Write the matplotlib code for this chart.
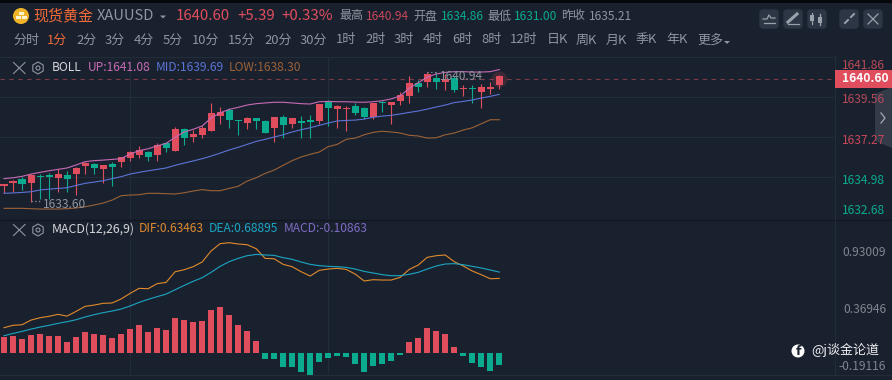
import matplotlib
matplotlib.use("Agg")
import matplotlib.pyplot as plt
from matplotlib.patches import Circle, Rectangle, RegularPolygon, FancyBboxPatch, Polygon

plt.rcParams['font.family'] = ['Noto Sans CJK SC', 'DejaVu Sans']

BG = '#1a212e'
GRID = '#232c39'
RED = '#e04e5e'
GREEN = '#0aab8e'
GREY = '#8f95a0'
ORANGE = '#f26b38'

opens = [1634.48,1634.64,1634.87,1634.64,1635.04,1635.08,1634.92,1635.10,1635.15,1635.61,1635.73,1635.44,1635.73,1635.84,
         1636.07,1636.24,1636.41,1636.24,1636.91,1636.47,1637.71,1637.27,1637.39,1637.61,1638.47,1638.82,1638.24,1638.07,
         1638.36,1638.19,1637.79,1638.42,1638.01,1638.19,1638.24,1638.19,1639.27,1638.87,1638.87,1639.05,1638.93,1638.42,
         1639.27,1639.10,1639.33,1639.62,1640.36,1640.42,1640.65,1640.42,1640.65,1640.02,1640.08,1639.85,1640.02,1640.25]
closes = [1634.58,1634.75,1634.58,1635.10,1634.98,1634.98,1635.15,1634.87,1635.50,1635.78,1635.50,1635.67,1635.55,1636.11,
          1636.41,1636.53,1636.13,1636.79,1636.64,1637.71,1637.21,1637.44,1637.79,1638.64,1638.70,1638.24,1638.19,1638.36,
          1638.19,1637.50,1638.42,1637.96,1638.36,1638.07,1638.13,1639.16,1638.93,1639.05,1638.93,1638.64,1638.42,1639.22,
          1639.22,1639.27,1639.67,1640.36,1640.13,1640.88,1640.42,1640.59,1639.96,1640.08,1640.02,1640.13,1640.13,1640.76]
highs = [1634.58,1634.81,1634.96,1635.15,1635.15,1635.19,1635.42,1635.32,1635.53,1635.86,1635.76,1635.67,1635.84,1636.15,
         1636.49,1636.76,1636.49,1636.91,1636.98,1637.82,1637.79,1637.67,1637.90,1639.22,1638.99,1638.93,1638.24,1638.42,
         1638.36,1638.24,1638.42,1638.53,1638.36,1638.47,1638.53,1639.16,1639.39,1639.10,1639.05,1639.22,1638.99,1639.22,
         1639.33,1639.27,1639.85,1640.76,1640.53,1640.99,1640.99,1640.88,1640.76,1640.25,1640.25,1640.30,1640.42,1640.82]
lows = [1634.05,1634.14,1634.24,1633.53,1633.72,1633.72,1634.12,1634.12,1633.95,1635.15,1635.15,1634.64,1634.47,1635.55,
        1635.90,1636.07,1635.90,1635.90,1636.41,1636.47,1636.81,1636.98,1637.21,1637.61,1638.01,1637.79,1637.39,1637.73,
        1637.73,1637.50,1636.98,1637.21,1637.79,1637.21,1637.21,1638.01,1637.90,1637.79,1637.61,1638.53,1638.30,1638.30,
        1638.70,1638.01,1639.10,1639.22,1639.85,1640.13,1640.02,1639.96,1639.85,1639.62,1639.22,1638.93,1639.73,1640.02]
boll_up = [1634.89,1634.94,1635.02,1635.15,1635.25,1635.34,1635.42,1635.50,1635.67,1635.86,1635.92,1635.95,1635.99,1636.03,
           1636.30,1636.49,1636.60,1636.76,1636.91,1637.25,1637.56,1637.71,1637.90,1638.36,1638.66,1638.85,1638.97,1639.10,
           1639.18,1639.22,1639.26,1639.26,1639.22,1639.18,1639.16,1639.29,1639.31,1639.29,1639.29,1639.27,1639.26,1639.29,
           1639.35,1639.45,1639.62,1640.06,1640.38,1640.69,1640.88,1640.97,1641.01,1641.01,1640.99,1640.99,1641.01,1641.13]
boll_mid = [1634.05,1634.07,1634.10,1634.14,1634.24,1634.29,1634.33,1634.37,1634.50,1634.62,1634.69,1634.77,1634.89,1635.00,
            1635.15,1635.25,1635.34,1635.42,1635.50,1635.65,1635.78,1635.90,1636.03,1636.18,1636.35,1636.53,1636.68,1636.85,
            1637.02,1637.14,1637.27,1637.40,1637.56,1637.69,1637.80,1637.94,1638.07,1638.19,1638.22,1638.24,1638.30,1638.40,
            1638.47,1638.51,1638.59,1638.68,1638.76,1638.87,1638.99,1639.10,1639.24,1639.31,1639.39,1639.50,1639.60,1639.71]
boll_low = [1633.19,1633.19,1633.19,1633.17,1633.15,1633.15,1633.15,1633.17,1633.21,1633.28,1633.38,1633.49,1633.66,1633.91,
            1633.95,1633.97,1634.05,1634.05,1634.03,1634.01,1634.08,1634.18,1634.26,1634.20,1634.20,1634.33,1634.45,1634.75,
            1634.94,1635.19,1635.38,1635.65,1635.92,1636.13,1636.28,1636.41,1636.72,1636.85,1637.14,1637.21,1637.40,1637.54,
            1637.60,1637.56,1637.50,1637.37,1637.33,1637.21,1637.23,1637.40,1637.50,1637.67,1637.80,1638.03,1638.26,1638.26]
dif = [0.214,0.234,0.239,0.279,0.299,0.311,0.328,0.313,0.353,0.396,0.407,0.422,0.425,0.459,0.507,0.550,0.547,0.590,0.601,
       0.692,0.709,0.735,0.775,0.869,0.932,0.940,0.929,0.923,0.889,0.806,0.803,0.755,0.735,0.692,0.655,0.704,0.715,0.721,
       0.712,0.672,0.613,0.624,0.621,0.621,0.644,0.712,0.749,0.815,0.829,0.835,0.778,0.741,0.698,0.667,0.632,0.635]
dea = [0.145,0.165,0.182,0.202,0.219,0.234,0.251,0.265,0.282,0.305,0.325,0.342,0.356,0.373,0.399,0.430,0.456,0.479,0.501,
       0.538,0.575,0.610,0.641,0.687,0.738,0.778,0.806,0.829,0.840,0.835,0.832,0.812,0.798,0.775,0.755,0.744,0.738,0.735,
       0.729,0.715,0.695,0.681,0.667,0.658,0.658,0.670,0.687,0.715,0.741,0.758,0.761,0.752,0.738,0.724,0.707,0.689]
macd = [0.137,0.142,0.117,0.151,0.160,0.142,0.142,0.094,0.134,0.179,0.160,0.151,0.125,0.160,0.202,0.234,0.179,0.211,0.194,
        0.299,0.276,0.262,0.274,0.362,0.390,0.325,0.239,0.185,0.103,-0.057,-0.051,-0.123,-0.123,-0.168,-0.191,-0.080,-0.046,
        -0.026,-0.037,-0.094,-0.162,-0.111,-0.094,-0.074,-0.020,0.091,0.125,0.211,0.188,0.160,0.048,-0.026,-0.091,-0.125,
        -0.154,-0.109]
price_grid = [1639.56, 1637.27, 1634.98]
last_price = 1640.60
x_grid = [14, 36]

W, H = 892, 380
fig = plt.figure(figsize=(W / 100, H / 100), dpi=100, facecolor=BG)


def pix_axes(x0, y0, x1, y1, **kw):
    return fig.add_axes([x0 / W, 1 - y1 / H, (x1 - x0) / W, (y1 - y0) / H], **kw)


XL = (-0.444, 92.17)
ax1 = pix_axes(0, 57, 834, 219)
ax1.set_xlim(XL)
ax1.set_ylim(1632.58, 1641.85)
ax2 = pix_axes(0, 220, 834, 380)
ax2.set_xlim(XL)
ax2.set_ylim(-0.233, 1.134)
for a in (ax1, ax2):
    a.set_facecolor('none')
    a.set_xticks([])
    a.set_yticks([])
    for s in a.spines.values():
        s.set_visible(False)
ax1.vlines(x_grid, 1632.58, 1641.85, color=GRID, lw=0.8, zorder=0)
ax2.vlines(x_grid, -0.185, 1.134, color=GRID, lw=0.8, zorder=0)

for p in price_grid:
    ax1.axhline(p, color=GRID, lw=0.8, zorder=0)

idx = list(range(len(opens)))
cols = [RED if c >= o else GREEN for o, c in zip(opens, closes)]
ax1.vlines(idx, lows, highs, colors=cols, lw=0.8, zorder=2)
ax1.bar(idx, [max(abs(c - o), 0.04) for o, c in zip(opens, closes)],
        bottom=[min(o, c) for o, c in zip(opens, closes)], width=0.78, color=cols, zorder=3, lw=0)
ax1.plot(idx, boll_up, color='#c56bb5', lw=0.8, zorder=4)
ax1.plot(idx, boll_mid, color='#5b74d6', lw=0.8, zorder=4)
ax1.plot(idx, boll_low, color='#9a6238', lw=0.8, zorder=4)
ax1.axhline(last_price, color='#7d3a4a', lw=0.8, ls=(0, (4, 4)), zorder=1)
ax1.scatter([idx[-1]], [last_price], s=130, color=RED, alpha=0.18, lw=0, zorder=5)
ax1.scatter([idx[-1]], [last_price], s=14, color=RED, alpha=0.9, lw=0, zorder=5)

ax2.bar(idx, macd, width=0.67, color=[RED if v >= 0 else GREEN for v in macd], lw=0, zorder=2)
ax2.plot(idx, dif, color='#e08a2c', lw=0.8, zorder=3)
ax2.plot(idx, dea, color='#1aa6c4', lw=0.8, zorder=3)

# page furniture in pixel coordinates
ov = fig.add_axes([0, 0, 1, 1], facecolor='none')
ov.set_xlim(0, W)
ov.set_ylim(H, 0)
ov.axis('off')


def T(x, y, s, color=GREY, px=12, ha='left', weight='normal'):
    ov.text(x, y, s, color=color, fontsize=px * 0.72, ha=ha, va='center', fontweight=weight, zorder=10)


ov.add_patch(Rectangle((0, 0), W, 2.5, color='#05070a', lw=0))
ov.plot([0, 834], [56.5, 56.5], color=GRID, lw=0.8)
ov.plot([0, W], [219.5, 219.5], color='#11161f', lw=1.0)
ov.plot([0, W], [374.5, 374.5], color=GRID, lw=0.8)
ov.plot([834.5, 834.5], [56, 374], color=GRID, lw=0.8)

# logo
ov.add_patch(Circle((21, 16), 8, color='#f0b429', lw=0))
for r in [(18.5, 12, 5, 3), (15.5, 16, 5, 3), (21.5, 16, 5, 3)]:
    ov.add_patch(Rectangle(r[:2], r[2], r[3], color='#fff4d0', lw=0))
T(33, 16, '现货黄金', ORANGE, 15)
T(97, 16, 'XAUUSD', GREY, 14.7)
ov.add_patch(Polygon([(160, 15.5), (166, 15.5), (163, 18.5)], color=GREY, lw=0))
T(176, 16, '1640.60', RED, 15)
T(237, 16, '+5.39', RED, 15)
T(281, 16, '+0.33%', RED, 15)
for x, s, c in [(339, '最高', GREY), (366, '1640.94', '#c8475a'), (413, '开盘', GREY), (441, '1634.86', GREEN),
                (487, '最低', GREY), (514, '1631.00', GREEN), (561, '昨收', GREY), (589, '1635.21', GREY)]:
    T(x, 16, s, c, 12)

tabs = [(13, '分时'), (47, '1分'), (76, '2分'), (105, '3分'), (134, '4分'), (163, '5分'), (192, '10分'), (228, '15分'),
        (264, '20分'), (300, '30分'), (336, '1时'), (365, '2时'), (394, '3时'), (423, '4时'), (452, '6时'), (481, '8时'),
        (510, '12时'), (547, '日K'), (576, '周K'), (606, '月K'), (636, '季K'), (666, '年K'), (697, '更多')]
for x, s in tabs:
    T(x, 40, s, ORANGE if s == '1分' else GREY, 13)
ov.add_patch(Polygon([(724, 41), (730, 41), (727, 44)], color=GREY, lw=0))

# toolbar
for x in [759, 783, 807, 839, 863]:
    ov.add_patch(FancyBboxPatch((x + 1, 10), 18, 18, boxstyle='round,pad=0,rounding_size=3',
                                fc='#2c3645', ec='#2c3645', lw=1))
IC = '#9aa1ab'
ov.plot([763, 767, 769, 771, 775], [19, 19, 15, 18, 18], color=IC, lw=0.9)
ov.plot([764, 775], [23, 23], color=IC, lw=0.9)
ov.plot([788, 797], [22, 14], color=IC, lw=2.2)
ov.plot([788, 799], [24, 24], color=IC, lw=0.9)
ov.plot([812, 812], [13, 24], color=IC, lw=0.9)
ov.add_patch(Rectangle((810, 15), 4, 6, color=IC, lw=0))
ov.plot([820, 820], [14, 25], color=IC, lw=0.9)
ov.add_patch(Rectangle((818, 17), 4, 6, color=IC, lw=0))
ov.plot([845, 848], [23, 20], color=IC, lw=1.4)
ov.plot([851, 854], [17, 14], color=IC, lw=1.4)
ov.plot([868, 878], [14, 24], color=IC, lw=0.9)
ov.plot([868, 878], [24, 14], color=IC, lw=0.9)


def tools(y):
    ov.plot([13.5, 25], [y - 5.5, y + 5.5], color=GREY, lw=0.8)
    ov.plot([13.5, 25], [y + 5.5, y - 5.5], color=GREY, lw=0.8)
    ov.add_patch(RegularPolygon((38, y), 6, radius=6, fc='none', ec=GREY, lw=0.8))
    ov.add_patch(Circle((38, y), 2, fc='none', ec=GREY, lw=0.8))


tools(68)
T(52, 67.5, 'BOLL', '#d4d6da', 12)
T(88, 67.5, 'UP:1641.08', '#c56bb5', 12)
T(156, 67.5, 'MID:1639.69', '#5b74d6', 12)
T(229, 67.5, 'LOW:1638.30', '#9a6238', 12)

tools(230)
T(52, 229, 'MACD(12,26,9)', '#d4d6da', 12.3)
T(139, 229, 'DIF:0.63463', '#e08a2c', 12)
T(209, 229, 'DEA:0.68895', '#1aa6c4', 12)
T(284, 229, 'MACD:-0.10863', '#7e6bc4', 12)

# extreme markers
T(43, 205, '1633.60', '#8f949d', 12)
ov.plot([31, 41], [201, 201], color='#8f949d', lw=0.9, ls=(0, (1, 2)))
T(440, 76, '1640.94', '#8f949d', 12)
ov.plot([427, 437], [72, 72], color='#8f949d', lw=0.9, ls=(0, (1, 2)))

# axis labels
T(842, 65.5, '1641.86', '#b84a58', 12)
ov.add_patch(Rectangle((835, 69.5), 57, 18, color=RED, lw=0, zorder=8))
T(842, 78.5, '1640.60', 'white', 12, weight='bold')
ov.add_patch(Polygon([(875, 94), (892, 87), (892, 148), (875, 141)], color='#333a48', lw=0, zorder=6))
ov.plot([881, 885, 881], [113, 118, 123], color='#9aa1ab', lw=1.0, zorder=7)
T(842, 99.5, '1639.56', '#b84a58', 12)
T(842, 140, '1637.27', '#c8475a', 12)
T(842, 180.5, '1634.98', GREEN, 12)
T(842, 210.5, '1632.68', GREEN, 12)
T(886, 252.5, '0.93009', '#80868f', 12, ha='right')
T(886, 309.5, '0.36946', '#80868f', 12, ha='right')
T(886, 366.5, '-0.19116', '#80868f', 12, ha='right')

# watermark
ov.add_patch(Circle((798, 351), 6.5, color='white', lw=0))
ov.text(798.5, 351.5, 'f', color='#1a212e', fontsize=9, ha='center', va='center', fontweight='bold', zorder=10,
        family='DejaVu Sans')
T(811, 349.5, '@j谈金论道', '#eceef0', 13)

fig.savefig('out.png', dpi=100, facecolor=BG)
